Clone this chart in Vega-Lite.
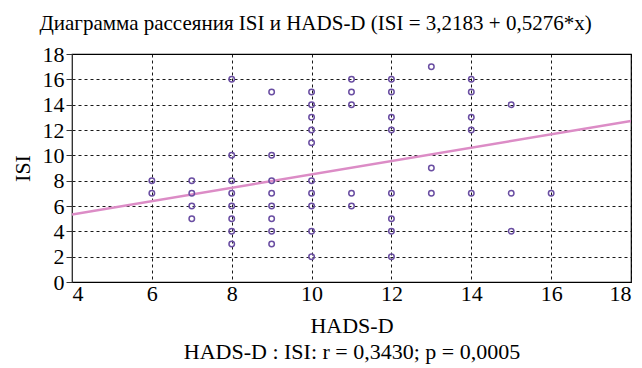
{
  "$schema": "https://vega.github.io/schema/vega-lite/v6.json",
  "autosize": "none",
  "padding": {"left": 72, "top": 54, "right": 11, "bottom": 86},
  "width": 559,
  "height": 228,
  "background": "white",
  "config": {
    "font": "Liberation Serif",
    "view": {"stroke": "black", "strokeWidth": 1.2},
    "axis": {
      "gridColor": "black",
      "gridDash": [3, 3],
      "gridOpacity": 0.9,
      "gridWidth": 1,
      "labelFont": "Liberation Serif",
      "titleFont": "Liberation Serif",
      "labelFontSize": 22,
      "titleFontSize": 22,
      "labelColor": "black",
      "titleColor": "black",
      "titleFontWeight": "normal",
      "domainColor": "#333",
      "tickColor": "#333",
      "labelOverlap": false
    }
  },
  "title": {
    "text": "Диаграмма рассеяния ISI и HADS-D (ISI = 3,2183 + 0,5276*x)",
    "font": "Liberation Serif",
    "fontSize": 21,
    "fontWeight": "normal",
    "color": "black",
    "anchor": "middle",
    "dx": -36,
    "dy": 3,
    "offset": 12
  },
  "datasets": {
    "points": [
      {"hads": 6, "isi": 8}, {"hads": 6, "isi": 7},
      {"hads": 7, "isi": 8}, {"hads": 7, "isi": 7}, {"hads": 7, "isi": 6}, {"hads": 7, "isi": 5},
      {"hads": 8, "isi": 16}, {"hads": 8, "isi": 10}, {"hads": 8, "isi": 8}, {"hads": 8, "isi": 7}, {"hads": 8, "isi": 6}, {"hads": 8, "isi": 5}, {"hads": 8, "isi": 4}, {"hads": 8, "isi": 3},
      {"hads": 9, "isi": 15}, {"hads": 9, "isi": 10}, {"hads": 9, "isi": 8}, {"hads": 9, "isi": 7}, {"hads": 9, "isi": 6}, {"hads": 9, "isi": 5}, {"hads": 9, "isi": 4}, {"hads": 9, "isi": 3},
      {"hads": 10, "isi": 15}, {"hads": 10, "isi": 14}, {"hads": 10, "isi": 13}, {"hads": 10, "isi": 12}, {"hads": 10, "isi": 11}, {"hads": 10, "isi": 8}, {"hads": 10, "isi": 7}, {"hads": 10, "isi": 6}, {"hads": 10, "isi": 4}, {"hads": 10, "isi": 2},
      {"hads": 11, "isi": 16}, {"hads": 11, "isi": 15}, {"hads": 11, "isi": 14}, {"hads": 11, "isi": 7}, {"hads": 11, "isi": 6},
      {"hads": 12, "isi": 16}, {"hads": 12, "isi": 15}, {"hads": 12, "isi": 13}, {"hads": 12, "isi": 12}, {"hads": 12, "isi": 7}, {"hads": 12, "isi": 5}, {"hads": 12, "isi": 4}, {"hads": 12, "isi": 2},
      {"hads": 13, "isi": 17}, {"hads": 13, "isi": 9}, {"hads": 13, "isi": 7},
      {"hads": 14, "isi": 16}, {"hads": 14, "isi": 15}, {"hads": 14, "isi": 13}, {"hads": 14, "isi": 12}, {"hads": 14, "isi": 7},
      {"hads": 15, "isi": 14}, {"hads": 15, "isi": 7}, {"hads": 15, "isi": 4},
      {"hads": 16, "isi": 7}
    ],
    "fit": [
      {"hads": 4, "isi": 5.3287},
      {"hads": 18, "isi": 12.7151}
    ]
  },
  "encoding": {
    "x": {
      "field": "hads", "type": "quantitative",
      "scale": {"domain": [4, 18], "nice": false, "zero": false},
      "axis": {
        "values": [4, 6, 8, 10, 12, 14, 16, 18],
        "title": ["HADS-D", "HADS-D : ISI: r = 0,3430; p = 0,0005"],
        "titleLineHeight": 26,
        "titlePadding": 11,
        "labelPadding": 1,
        "ticks": false,
        "domain": false
      }
    },
    "y": {
      "field": "isi", "type": "quantitative",
      "scale": {"domain": [0, 18], "nice": false},
      "axis": {
        "values": [0, 2, 4, 6, 8, 10, 12, 14, 16, 18],
        "title": "ISI",
        "titlePadding": 8,
        "labelPadding": 2,
        "tickSize": 6,
        "labelOverlap": false
      }
    }
  },
  "layer": [
    {
      "data": {"name": "fit"},
      "mark": {"type": "line", "color": "#dc8cc6", "strokeWidth": 2.5, "clip": true}
    },
    {
      "data": {"name": "points"},
      "mark": {"type": "point", "shape": "circle", "filled": false, "color": "#6a4ea2", "size": 30, "strokeWidth": 1.5, "opacity": 1}
    }
  ]
}
